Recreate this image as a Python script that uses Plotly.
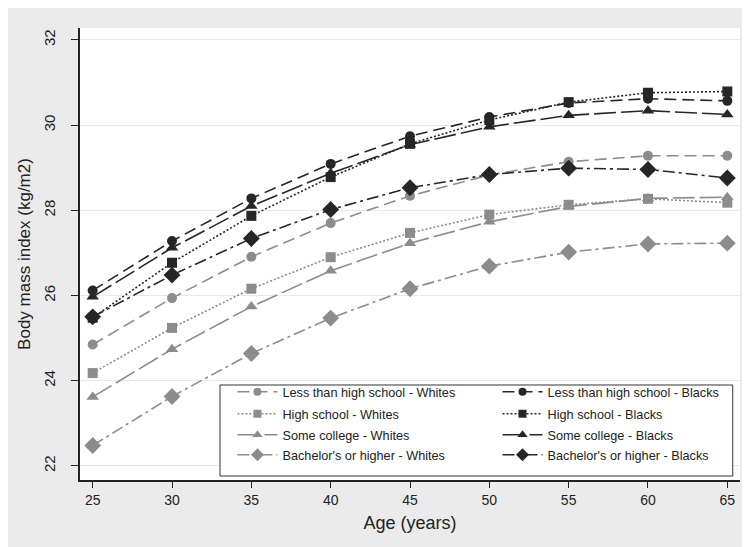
import plotly.graph_objects as go

ages = [25, 30, 35, 40, 45, 50, 55, 60, 65]

lths_w = [24.85, 25.94, 26.91, 27.70, 28.34, 28.83, 29.14, 29.28, 29.28]
lths_b = [26.12, 27.28, 28.28, 29.09, 29.74, 30.19, 30.52, 30.62, 30.57]
hs_w = [24.18, 25.24, 26.16, 26.90, 27.47, 27.90, 28.13, 28.27, 28.18]
hs_b = [25.48, 26.77, 27.87, 28.78, 29.56, 30.12, 30.54, 30.76, 30.79]
sc_w = [23.62, 24.74, 25.74, 26.58, 27.23, 27.73, 28.09, 28.28, 28.31]
sc_b = [25.97, 27.12, 28.10, 28.87, 29.54, 29.96, 30.23, 30.34, 30.25]
ba_w = [22.48, 23.63, 24.64, 25.47, 26.16, 26.69, 27.02, 27.21, 27.23]
ba_b = [25.50, 26.48, 27.34, 28.02, 28.53, 28.84, 28.99, 28.96, 28.76]

names = [
    "Less than high school - Whites", "Less than high school - Blacks",
    "High school - Whites", "High school - Blacks",
    "Some college - Whites", "Some college - Blacks",
    "Bachelor's or higher - Whites", "Bachelor's or higher - Blacks",
]
series = [lths_w, lths_b, hs_w, hs_b, sc_w, sc_b, ba_w, ba_b]

GRAY = "#8c8c8c"
DARK = "#262626"
colors = [GRAY, DARK] * 4
dashes = ["12px,6px", "12px,6px", "2px,2px", "2px,2px",
          "22px,5px", "22px,5px", "12px,4px,3px,4px", "12px,4px,3px,4px"]
symbols = ["circle", "circle", "square", "square",
           "triangle-up", "triangle-up", "diamond", "diamond"]
sizes = [10, 10, 10, 10, 11, 11, 13, 13]
legend_sizes = [8, 8, 8, 8, 9, 9, 10, 10]

# legend placement (paper coords): column x, row top y
col_x = [0.231, 0.6326]
row_y = [0.2279, 0.1792, 0.1327, 0.0885]

fig = go.Figure()
for nm, ys, c, d, s, sz in zip(names, series, colors, dashes, symbols, sizes):
    fig.add_trace(go.Scatter(
        x=ages, y=ys, name=nm, mode="lines+markers", showlegend=False,
        line=dict(color=c, width=1.6, dash=d),
        marker=dict(symbol=s, size=sz, color=c),
    ))

legend_layouts = {}
for i, (nm, c, d, s, lsz) in enumerate(zip(names, colors, dashes, symbols, legend_sizes)):
    key = "legend" if i == 0 else f"legend{i + 1}"
    fig.add_trace(go.Scatter(
        x=[None], y=[None], name=nm, mode="lines+markers", legend=key,
        showlegend=True,
        line=dict(color=c, width=1.6, dash=d),
        marker=dict(symbol=s, size=lsz, color=c),
    ))
    legend_layouts[key] = dict(
        x=col_x[i % 2], y=row_y[i // 2], xanchor="left", yanchor="top",
        orientation="v", bgcolor="rgba(0,0,0,0)", borderwidth=0,
        font=dict(size=12.7, color="#222222"), itemwidth=40,
    )

fig.update_layout(
    width=750, height=547,
    margin=dict(l=72, r=18, t=20, b=75),
    paper_bgcolor="#ebebeb",
    plot_bgcolor="white",
    font=dict(family="Liberation Sans, Arial, sans-serif", color="#222222"),
    showlegend=True,
    shapes=[dict(
        type="rect", xref="paper", yref="paper",
        x0=0.2121, x1=0.989, y0=0.0088, y1=0.2102,
        line=dict(color="#333333", width=1), fillcolor="white", layer="above",
    )],
    **legend_layouts,
)
fig.update_xaxes(
    range=[24.2, 65.8], tickvals=ages, showgrid=False, zeroline=False,
    showline=True, linecolor="#222222", linewidth=1.5,
    ticks="outside", ticklen=6, tickcolor="#222222",
    tickfont=dict(size=14),
    title=dict(text="Age (years)", font=dict(size=18), standoff=10),
)
fig.update_yaxes(
    range=[21.67, 32.28], tickvals=[22, 24, 26, 28, 30, 32], tickangle=-90,
    showgrid=True, gridcolor="#e8e8e8", gridwidth=1, zeroline=False,
    showline=True, linecolor="#222222", linewidth=1.5,
    ticks="outside", ticklen=7, tickcolor="#222222",
    ticklabelstandoff=10,
    tickfont=dict(size=15),
    title=dict(text="Body mass index (kg/m2)", font=dict(size=17), standoff=6),
)
fig.write_html("out.html")
